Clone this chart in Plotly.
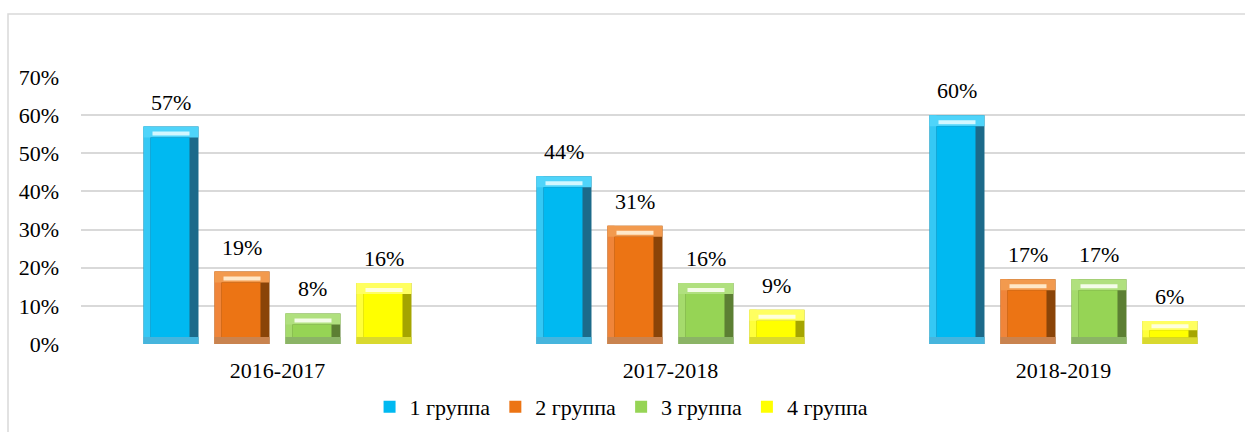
import numpy as np
import plotly.graph_objects as go

# ---- data ----
categories = ["2016-2017", "2017-2018", "2018-2019"]
series_names = ["1 группа", "2 группа", "3 группа", "4 группа"]
group1 = [57, 44, 60]
group2 = [19, 31, 17]
group3 = [8, 16, 17]
group4 = [16, 9, 6]
y_ticks = [0, 10, 20, 30, 40, 50, 60, 70]

series_values = [group1, group2, group3, group4]

# ---- styles ----
styles = [
    dict(face="#00B9F1", dark="#1C6A8A", left="#35C8F4", top="#4FD4FA", hl="#D2F7FF", bottom="#46B5DD"),
    dict(face="#EC7414", dark="#8A4408", left="#F0853A", top="#F29A4E", hl="#FFE8C8", bottom="#C9834F"),
    dict(face="#96D455", dark="#5C7F33", left="#A5DB6C", top="#B0E07E", hl="#F4FCE8", bottom="#8BB466"),
    dict(face="#FFFF00", dark="#A5A500", left="#FFFF3A", top="#FFFF60", hl="#FFFFDC", bottom="#D9D92E"),
]

FONT = "Liberation Serif"
FS = 22
W, H = 1245, 432
ML, MR, MT, MB = 81, 0, 77, 88
plot_w = W - ML - MR
plot_h = H - MT - MB
px_per_cat = 393.0
x_range = [-0.5, -0.5 + plot_w / px_per_cat]
y_max = 70
px_per_unit_y = plot_h / y_max

slot = 71 / px_per_cat
barw = 55 / px_per_cat
first_center = -0.341 + barw / 2

def px_x(p):
    return p / px_per_cat

def px_y(p):
    return p / px_per_unit_y

lw, rw = px_x(7), px_x(9)
tb_px, bb_px = 11, 7
hl_px = 4

fig = go.Figure()
idx = np.arange(len(categories))
for i, (name, vals, st) in enumerate(zip(series_names, series_values, styles)):
    vals = np.array(vals, dtype=float)
    c = idx + first_center + i * slot
    tb = np.minimum(px_y(tb_px), vals * 0.4)
    bb = np.minimum(px_y(bb_px), vals * 0.3)
    hl = np.minimum(px_y(hl_px), tb * 0.45)
    common = dict(hoverinfo="skip", marker_line_width=0)
    fig.add_trace(go.Bar(x=c, y=vals, width=barw, marker_color=st["dark"],
                         showlegend=False, **common))
    fig.add_trace(go.Bar(x=c - barw / 2 + lw / 2, y=vals, width=lw,
                         marker_color=st["left"], showlegend=False, **common))
    fig.add_trace(go.Bar(x=c, y=bb, width=barw, marker_color=st["bottom"],
                         showlegend=False, **common))
    fig.add_trace(go.Bar(x=c, y=tb, base=vals - tb, width=barw,
                         marker_color=st["top"], showlegend=False, **common))
    fig.add_trace(go.Bar(x=c, y=hl, base=vals - tb + px_y(2), width=barw - px_x(18),
                         marker_color=st["hl"], showlegend=False, **common))
    fig.add_trace(go.Bar(x=c + (lw - rw) / 2, y=vals - tb - bb, base=bb,
                         width=barw - lw - rw, marker_color=st["face"],
                         name=name, showlegend=True, **common))
    for xi, v in zip(c, vals):
        fig.add_annotation(x=xi, y=v, text=f"{int(v)}%", showarrow=False,
                           yanchor="bottom", yshift=10,
                           font=dict(family=FONT, size=FS, color="#000000"))

fig.update_layout(
    width=W, height=H,
    margin=dict(l=ML, r=MR, t=MT, b=MB),
    barmode="overlay",
    paper_bgcolor="white", plot_bgcolor="white",
    font=dict(family=FONT, size=FS, color="#000000"),
    legend=dict(orientation="h", x=0.4644, xanchor="center",
                y=-(407 - (H - MB)) / plot_h,
                yanchor="middle", font=dict(family=FONT, size=FS),
                itemwidth=30, traceorder="normal"),
    shapes=[dict(type="rect", xref="paper", yref="paper",
                 x0=(8 - ML) / plot_w, x1=1.2,
                 y0=-0.6, y1=(H - MB - 14) / plot_h,
                 line=dict(color="#D9D9D9", width=1.5), layer="below")],
)
fig.update_xaxes(range=x_range, tickmode="array", tickvals=idx, ticktext=categories,
                 showgrid=False, zeroline=False, showline=False, ticks="",
                 ticklabelstandoff=11, tickfont=dict(family=FONT, size=FS))
fig.update_yaxes(range=[0, y_max], tickmode="array", tickvals=y_ticks,
                 ticktext=[f"{t}%" for t in y_ticks],
                 showgrid=True, gridcolor="#D9D9D9", gridwidth=1.5,
                 zeroline=False, showline=False, ticks="",
                 ticklabelstandoff=21, tickfont=dict(family=FONT, size=FS))

fig.write_html("out.html", config={"displayModeBar": False},
               post_script="document.body.style.margin='0';")
